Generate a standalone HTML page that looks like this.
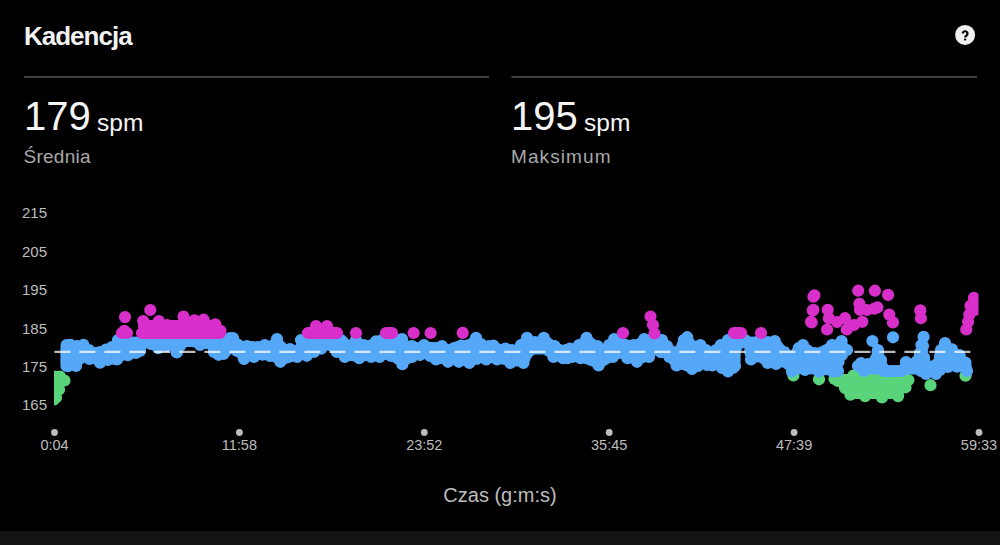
<!DOCTYPE html>
<html><head><meta charset="utf-8">
<style>
html,body{margin:0;padding:0;background:#000;width:1000px;height:545px;overflow:hidden;font-family:"Liberation Sans",sans-serif;}
.t{position:absolute;white-space:nowrap;line-height:1;}
.yl{position:absolute;left:22px;font-size:15px;color:#bdbdbd;line-height:1;}
.xl{position:absolute;top:438px;font-size:14.5px;color:#bdbdbd;line-height:1;width:80px;margin-left:-40px;text-align:center;}
</style></head><body>
<svg width="1000" height="545" style="position:absolute;left:0;top:0">
<rect x="24" y="76" width="465" height="1.8" fill="#444"/>
<rect x="511.4" y="76" width="465.6" height="1.8" fill="#444"/>
<circle cx="965.1" cy="34.9" r="10" fill="#f0f0f0"/><path d="M962.7 33.6A2.4 2.4 0 1 1 967.3 34.6C966.8 35.6 965.1 35.9 965.1 37.6" stroke="#000" stroke-width="2.2" fill="none"/><circle cx="965.1" cy="39.6" r="1.15" fill="#000"/>
<rect x="0" y="531" width="1000" height="14" fill="#131313"/>
<g fill="#bdbdbd"><circle cx="54.5" cy="432.5" r="3.4"/><circle cx="239.4" cy="432.5" r="3.4"/><circle cx="424.3" cy="432.5" r="3.4"/><circle cx="609.2" cy="432.5" r="3.4"/><circle cx="794.1" cy="432.5" r="3.4"/><circle cx="979" cy="432.5" r="3.4"/></g>
<clipPath id="cp"><rect x="54" y="200" width="924.5" height="230"/></clipPath>
<g clip-path="url(#cp)">
<path d="M793.4 375.5h0M819.0 379.3h0M834.5 379.0h0M838.0 381.0h0M853.4 375.6h0M850.4 394.6h0M865.1 396.1h0M882.0 397.4h0M898.1 396.1h0M905.5 387.3h0M908.4 380.0h0M847.3 389.2h0M930.5 385.2h0M965.5 375.7h0M899.4 384.6h0M905.3 378.7h0M898.0 394.9h0M840.0 380.0H905.0M845.0 388.0H900.0M852.0 393.0H895.0" stroke="#5ad47a" stroke-width="12.2" stroke-linecap="round" fill="none"/>
<path d="M66.5 348.5V363.5M68.5 347.4V363.7M70.5 347.3V363.6M72.5 347.7V363.6M74.5 348.1V363.5M76.5 348.4V362.7M78.5 348.2V359.5M80.5 347.8V356.3M82.5 347.5V355.7M84.5 348.3V355.9M86.5 350.2V356.2M88.5 352.0V356.4M90.5 353.3V356.9M92.5 354.3V357.6M94.5 355.3V358.3M96.5 355.4V359.0M98.5 354.9V359.7M100.5 354.3V360.0M102.5 353.5V359.4M104.5 352.7V358.7M106.5 351.9V358.0M108.5 351.0V357.4M110.5 350.1V357.1M112.5 349.4V356.8M114.5 349.0V356.5M116.5 348.6V356.8M118.5 342.5V356.3M120.5 342.5V355.6M122.5 342.5V354.8M124.5 342.5V354.0M126.5 342.5V353.3M128.5 342.5V352.6M130.5 342.5V352.0M132.5 342.5V351.5M134.5 342.5V350.9M136.5 342.5V350.2M138.5 342.5V349.2M140.5 342.5V346.2M142.5 341.7V341.7M144.5 341.0V341.0M146.5 340.6V340.6M148.5 341.2V341.2M150.5 341.9V341.9M152.5 342.1V342.1M154.5 342.2V342.2M156.5 342.3V342.3M158.5 342.5V342.5M160.5 342.5V342.7M162.5 342.5V342.9M164.5 342.5V343.2M166.5 342.5V343.4M168.5 342.5V343.5M170.5 342.5V343.5M172.5 342.5V343.5M174.5 342.5V343.5M176.5 342.5V343.5M178.5 342.5V343.5M180.5 342.5V343.2M182.5 342.3V342.3M184.5 341.8V341.8M186.5 341.2V341.2M188.5 340.6V340.6M190.5 340.8V340.8M192.5 341.1V341.1M194.5 341.5V341.5M196.5 341.9V341.9M198.5 342.2V342.2M200.5 342.5V342.5M202.5 342.5V342.7M204.5 342.5V342.9M206.5 342.5V343.0M208.5 342.5V343.2M210.5 342.5V343.3M212.5 342.5V343.5M214.5 342.5V349.5M216.5 342.5V349.5M218.5 342.5V349.5M220.5 342.5V349.5M222.5 342.5V349.5M224.5 342.5V349.5M226.5 341.9V348.0M228.5 341.1V347.6M230.5 340.5V347.9M232.5 340.5V348.1M234.5 342.8V348.2M236.5 345.8V348.4M238.5 347.5V350.2M240.5 348.5V352.5M242.5 348.5V354.8M244.5 348.5V356.4M246.5 348.5V356.0M248.5 348.8V355.6M250.5 349.2V355.2M252.5 349.5V354.8M254.5 349.5V354.4M256.5 349.5V353.8M258.5 349.4V353.2M260.5 348.8V352.6M262.5 348.2V352.0M264.5 347.6V350.6M266.5 348.2V350.0M268.5 348.9V352.0M270.5 348.9V353.8M272.5 346.6V354.9M274.5 344.4V356.0M276.5 342.1V357.1M278.5 344.5V358.2M280.5 348.5V359.3M282.5 352.5V358.7M284.5 353.1V358.1M286.5 352.5V357.6M288.5 351.9V357.0M290.5 351.6V356.4M292.5 352.0V355.8M294.5 352.4V355.3M296.5 352.8V354.7M298.5 353.2V354.3M300.5 348.0V354.1M302.5 342.5V353.8M304.5 342.5V353.6M306.5 342.5V353.3M308.5 342.5V352.4M310.5 342.5V351.3M312.5 342.5V350.3M314.5 342.5V349.3M316.5 342.5V348.3M318.5 342.5V347.4M320.5 342.5V346.4M322.5 342.5V345.5M324.5 342.5V344.7M326.5 342.5V343.8M328.5 342.5V343.0M330.5 342.5V343.4M332.5 342.5V345.3M334.5 342.5V347.3M336.5 342.5V349.2M338.5 342.5V350.6M340.5 342.5V351.8M342.5 344.0V353.1M344.5 345.5V354.3M346.5 347.1V354.6M348.5 347.5V354.8M350.5 347.5V355.0M352.5 347.5V355.1M354.5 345.0V355.3M356.5 343.3V355.5M358.5 346.7V355.6M360.5 347.5V355.6M362.5 347.5V355.4M364.5 347.4V355.2M366.5 346.8V355.0M368.5 346.1V354.8M370.5 345.6V354.6M372.5 344.9V354.5M374.5 344.3V354.5M376.5 343.8V354.5M378.5 343.3V354.5M380.5 342.9V354.0M382.5 342.5V352.9M384.5 342.5V351.8M386.5 342.5V349.5M388.5 342.5V348.5M390.5 342.5V352.5M392.5 342.5V354.6M394.5 342.5V356.0M396.5 342.5V357.5M398.5 342.4V358.9M400.5 341.9V360.3M402.5 342.4V361.6M404.5 345.9V360.1M406.5 348.5V358.6M408.5 348.5V357.1M410.5 348.5V355.6M412.5 348.5V354.4M414.5 348.3V353.9M416.5 348.1V353.4M418.5 348.0V352.9M420.5 347.8V352.3M422.5 347.6V351.7M424.5 347.5V351.1M426.5 347.6V350.6M428.5 347.8V352.2M430.5 347.9V353.8M432.5 348.0V354.9M434.5 348.1V356.0M436.5 348.2V357.0M438.5 348.3V357.4M440.5 348.4V357.8M442.5 348.8V358.2M444.5 349.9V358.6M446.5 351.1V359.0M448.5 352.2V359.3M450.5 354.2V359.3M452.5 353.6V359.3M454.5 350.4V359.3M456.5 349.8V359.3M458.5 349.1V359.3M460.5 348.3V359.5M462.5 348.1V359.7M464.5 348.1V359.9M466.5 348.1V360.2M468.5 346.8V360.4M470.5 345.1V359.9M472.5 343.3V358.8M474.5 341.6V357.7M476.5 340.9V356.6M478.5 343.4V356.6M480.5 345.9V356.7M482.5 348.8V356.7M484.5 351.8V356.8M486.5 351.0V356.9M488.5 349.0V356.9M490.5 348.4V356.9M492.5 348.2V356.9M494.5 348.4V356.9M496.5 348.9V356.9M498.5 349.4V357.3M500.5 349.9V357.9M502.5 350.4V358.4M504.5 350.9V358.9M506.5 351.3V359.5M508.5 351.8V360.0M510.5 352.2V360.5M512.5 352.7V360.5M514.5 353.7V360.5M516.5 354.1V360.5M518.5 351.1V360.5M520.5 348.2V360.5M522.5 345.7V360.5M524.5 343.3V358.3M526.5 340.9V354.3M528.5 341.1V350.3M530.5 342.1V348.5M532.5 343.2V348.5M534.5 344.2V348.5M536.5 343.8V348.5M538.5 342.8V348.5M540.5 341.9V348.5M542.5 340.9V348.5M544.5 340.8V348.5M546.5 342.4V348.5M548.5 343.9V348.5M550.5 345.4V350.5M552.5 346.9V353.3M554.5 348.4V354.6M556.5 349.1V354.9M558.5 349.7V355.1M560.5 350.4V355.4M562.5 351.0V355.6M564.5 351.6V355.7M566.5 352.3V355.7M568.5 351.6V355.4M570.5 351.2V355.0M572.5 351.7V354.5M574.5 352.2V354.8M576.5 350.5V355.1M578.5 348.1V355.4M580.5 346.1V355.7M582.5 344.2V356.5M584.5 342.3V357.3M586.5 340.4V358.1M588.5 341.7V358.9M590.5 343.3V359.7M592.5 344.8V360.5M594.5 346.3V361.3M596.5 347.8V362.1M598.5 349.4V362.9M600.5 351.1V361.8M602.5 352.8V360.6M604.5 354.4V359.5M606.5 351.5V358.3M608.5 348.3V357.1M610.5 345.8V356.0M612.5 343.5V354.8M614.5 341.6V353.5M616.5 342.2V352.2M618.5 342.8V350.8M620.5 343.5V351.4M622.5 344.1V352.7M624.5 344.7V353.9M626.5 345.3V355.1M628.5 346.0V356.1M630.5 346.6V356.9M632.5 347.2V357.6M634.5 346.9V358.4M636.5 345.8V359.1M638.5 344.7V358.7M640.5 343.6V357.9M642.5 342.4V357.1M644.5 341.6V356.3M646.5 341.9V355.5M648.5 342.2V354.7M650.5 342.5V350.7M652.5 342.5V348.6M654.5 342.5V348.9M656.5 342.5V349.1M658.5 342.5V349.4M660.5 342.5V349.6M662.5 343.1V350.6M664.5 345.5V351.7M666.5 347.9V352.8M668.5 349.5V354.0M670.5 350.8V355.8M672.5 352.1V358.1M674.5 353.4V360.4M676.5 354.7V362.8M678.5 354.0V362.6M680.5 349.6V362.2M682.5 345.3V361.9M684.5 341.9V362.0M686.5 340.3V362.7M688.5 341.7V364.0M690.5 344.7V365.4M692.5 347.7V366.2M694.5 348.3V365.2M696.5 348.0V364.2M698.5 347.8V363.1M700.5 347.6V361.4M702.5 349.4V359.7M704.5 351.2V360.7M706.5 352.8V362.1M708.5 353.8V362.6M710.5 354.8V362.8M712.5 355.1V362.8M714.5 353.6V360.9M716.5 352.0V359.3M718.5 349.9V358.7M720.5 347.8V362.6M722.5 347.5V365.8M724.5 347.5V366.9M726.5 345.0V368.0M728.5 342.5V368.6M730.5 342.5V367.2M732.5 342.5V365.8M734.5 342.5V364.0M736.5 342.5V347.0M738.5 342.0V342.0M740.5 342.0V342.0M742.5 342.0V342.0M744.5 342.0V342.0M746.5 342.0V342.0M748.5 342.0V342.0M750.5 342.5V353.0M752.5 342.5V356.0M754.5 342.5V354.8M756.5 342.5V353.1M758.5 342.5V351.2M760.5 342.6V352.2M762.5 343.1V354.8M764.5 343.6V357.1M766.5 344.1V359.3M768.5 344.4V360.6M770.5 344.1V360.8M772.5 343.8V361.1M774.5 343.5V361.3M776.5 345.4V361.5M778.5 347.7V361.5M780.5 350.0V361.5M782.5 352.3V361.5M784.5 354.6V361.5M786.5 356.2V361.5M788.5 357.9V362.4M790.5 359.4V366.1M792.5 357.2V368.8M794.5 355.1V368.6M796.5 353.0V368.4M798.5 350.8V368.2M800.5 349.3V368.0M802.5 347.9V367.8M804.5 348.5V367.6M806.5 349.8V367.7M808.5 351.2V367.9M810.5 352.5V368.1M812.5 353.8V368.4M814.5 355.2V368.6M816.5 354.8V368.8M818.5 353.9V369.0M820.5 352.9V369.1M822.5 352.0V369.1M824.5 351.0V369.1M826.5 350.1V369.1M828.5 349.1V369.1M830.5 348.2V369.1M832.5 347.3V369.1M834.5 346.7V368.9M836.5 346.0V368.7M838.5 345.3V359.5M840.5 344.7V355.5M842.5 346.5V352.0M844.5 349.2V350.0M846.5 349.9V349.9M66.5 346.0h0M66.7 345.0h0M70.3 344.8h0M77.0 346.0h0M83.4 344.8h0M89.0 350.0h0M95.3 353.2h0M100.0 352.0h0M106.0 349.6h0M112.0 347.0h0M116.8 346.0h0M118.0 340.0h0M225.0 340.0h0M230.0 338.0h0M233.0 338.0h0M237.0 344.0h0M240.0 346.0h0M247.0 346.0h0M252.0 347.0h0M258.0 347.0h0M264.8 345.0h0M270.0 347.0h0M277.0 339.0h0M281.0 347.0h0M283.0 351.0h0M290.0 349.0h0M300.0 351.0h0M301.0 340.0h0M341.0 340.0h0M342.4 341.4h0M347.0 345.0h0M353.0 345.0h0M356.0 340.0h0M359.0 345.0h0M364.0 345.0h0M376.0 341.4h0M382.0 340.0h0M398.0 340.0h0M402.0 339.0h0M406.0 346.0h0M412.0 346.0h0M424.0 345.0h0M442.0 346.0h0M449.0 350.0h0M451.6 353.0h0M454.0 348.0h0M457.6 347.0h0M461.0 345.6h0M467.0 345.6h0M476.0 337.8h0M481.0 344.0h0M485.0 350.0h0M489.0 346.0h0M493.4 345.6h0M505.4 348.6h0M512.0 350.0h0M516.2 352.0h0M521.0 345.0h0M527.0 337.8h0M535.0 342.0h0M543.8 337.8h0M554.6 346.0h0M566.6 349.8h0M570.0 348.6h0M575.0 349.8h0M579.0 345.0h0M586.6 337.8h0M597.4 346.0h0M604.6 352.0h0M609.0 345.0h0M614.2 339.0h0M633.4 345.0h0M644.2 339.0h0M650.0 340.0h0M662.0 340.0h0M667.0 346.0h0M677.8 353.0h0M683.8 340.0h0M687.2 337.2h0M693.0 346.0h0M700.4 345.0h0M706.0 350.0h0M712.0 353.0h0M716.0 350.0h0M720.8 345.0h0M725.0 345.0h0M728.0 340.0h0M745.0 340.0h0M760.0 340.0h0M768.0 342.0h0M774.8 341.0h0M784.4 352.0h0M790.4 357.0h0M798.8 348.0h0M803.0 345.0h0M815.0 353.0h0M832.0 345.0h0M841.0 342.0h0M847.0 350.0h0M66.5 366.0h0M67.9 366.2h0M76.0 366.0h0M81.0 358.0h0M89.4 359.0h0M100.0 362.7h0M108.0 360.0h0M114.4 359.0h0M117.0 359.4h0M128.0 355.2h0M136.0 353.0h0M140.0 351.0h0M141.5 344.0h0M146.0 341.0h0M151.0 344.0h0M167.0 346.0h0M180.0 346.0h0M189.0 341.0h0M200.0 345.0h0M212.5 346.0h0M214.0 352.0h0M225.0 352.0h0M227.0 350.0h0M237.0 351.0h0M244.0 359.0h0M254.0 357.0h0M262.4 354.6h0M266.0 352.0h0M270.0 356.0h0M280.4 361.8h0M297.2 357.0h0M306.8 355.8h0M314.0 352.0h0M321.2 348.6h0M329.6 345.0h0M336.8 352.0h0M344.8 357.0h0M359.2 358.2h0M371.2 357.0h0M379.6 357.0h0M385.0 354.0h0M388.0 350.0h0M391.0 356.0h0M402.4 364.2h0M412.0 357.0h0M420.0 355.0h0M426.4 353.0h0M430.0 356.0h0M436.0 359.4h0M448.0 361.8h0M458.8 361.8h0M469.4 363.0h0M476.6 359.0h0M486.2 359.4h0M497.0 359.4h0M510.2 363.0h0M523.4 363.0h0M529.4 351.0h0M549.0 351.0h0M553.4 357.0h0M563.0 358.2h0M567.4 358.2h0M572.6 357.0h0M580.6 358.2h0M598.6 365.4h0M613.0 357.0h0M619.0 353.0h0M627.4 358.2h0M637.0 361.8h0M649.0 357.0h0M651.4 351.0h0M661.0 352.2h0M669.4 357.0h0M676.6 365.4h0M683.8 364.2h0M687.0 365.4h0M692.0 369.0h0M698.0 366.0h0M702.8 362.0h0M707.0 365.0h0M712.4 365.4h0M716.0 362.0h0M718.4 361.0h0M722.0 368.0h0M728.0 371.4h0M733.0 368.0h0M735.0 366.0h0M737.0 344.0h0M749.0 344.0h0M751.0 359.4h0M755.0 357.0h0M759.2 353.0h0M763.0 358.0h0M767.6 363.0h0M776.0 364.0h0M788.0 364.0h0M792.0 371.4h0M805.0 370.0h0M819.0 371.6h0M833.0 371.6h0M838.0 371.0h0M838.5 362.0h0M842.0 355.0h0M847.0 350.0h0M858.0 366.0V366.0M860.0 365.8V365.8M862.0 365.6V366.8M864.0 365.9V368.5M866.0 366.2V368.5M868.0 366.5V368.5M870.0 365.8V368.5M872.0 365.2V368.5M874.0 364.5V368.5M876.0 358.5V368.5M878.0 352.5V368.5M880.0 359.2V368.5M882.0 366.2V368.5M884.0 371.0V371.0M886.0 371.0V371.0M888.0 371.0V371.0M890.0 371.0V371.0M892.0 371.0V371.0M894.0 371.0V371.0M896.0 371.0V371.0M898.0 371.0V371.0M900.0 371.0V371.0M902.0 371.0V371.0M904.0 368.8V368.8M906.0 364.5V368.5M908.0 364.3V368.5M910.0 364.1V368.5M912.0 364.0V368.5M914.0 363.8V368.5M916.0 363.6V368.5M918.0 360.8V368.5M920.0 355.5V368.5M922.0 350.8V369.1M924.0 357.5V370.3M926.0 366.5V371.5M928.0 366.5V371.5M930.0 366.5V371.5M932.0 366.5V371.5M934.0 366.5V371.5M936.0 366.5V371.5M938.0 363.0V369.5M940.0 356.0V367.5M942.0 350.8V366.8M944.0 347.2V366.0M946.0 346.4V365.2M948.0 348.2V364.5M950.0 350.1V364.4M952.0 351.9V364.3M954.0 353.4V364.2M956.0 355.0V364.1M958.0 356.5V364.5M960.0 358.2V365.4M962.0 360.7V366.3M964.0 363.2V367.2M966.0 367.9V368.1M858.0 366.0h0M861.0 363.0h0M868.0 364.0h0M874.0 362.0h0M878.0 350.0h0M881.0 360.0h0M884.0 371.0h0M902.0 371.0h0M906.0 362.0h0M917.0 361.0h0M920.0 353.0h0M923.0 346.0h0M925.0 364.0h0M937.0 364.0h0M941.0 350.0h0M945.0 343.0h0M952.0 349.4h0M959.6 355.2h0M965.5 362.6h0M967.0 371.0h0M858.0 366.0h0M864.0 371.0h0M921.0 371.0h0M926.0 374.0h0M936.0 374.0h0M940.0 370.0h0M948.0 367.0h0M957.0 366.6h0M967.0 371.0h0M158.2 348.2h0M176.8 352.4h0M218.6 354.8h0M223.6 354.0h0M774.0 342.0h0M803.0 345.0h0M831.9 345.0h0M840.9 342.0h0M841.6 341.0h0M872.4 341.0h0M877.6 352.0h0M893.0 337.3h0M923.6 336.9h0M921.4 345.0h0M920.0 353.8h0M945.0 344.2h0" stroke="#55a8f8" stroke-width="12.2" stroke-linecap="round" fill="none"/>
<path d="M54.0 399.5h0M56.0 397.5h0M59.0 389.5h0M64.5 380.5h0M60.0 376.5h0M54.0 376.5h0M54.0 387.5H58.0" stroke="#5ad47a" stroke-width="12.2" stroke-linecap="round" fill="none"/>
<path d="M125.0 317.1h0M124.3 330.8h0M122.0 333.0h0M127.0 333.0h0M150.3 310.0h0M143.2 321.0h0M158.8 321.0h0M167.2 325.0h0M183.5 316.5h0M194.5 320.4h0M203.6 319.7h0M215.3 324.3h0M220.5 330.8h0M316.0 326.0h0M327.0 326.0h0M356.0 333.0h0M413.6 333.0h0M430.6 333.0h0M462.7 332.9h0M623.0 333.0h0M650.5 316.5h0M653.0 325.0h0M654.5 333.5h0M761.0 333.0h0M814.4 295.3h0M812.8 310.4h0M811.6 322.4h0M827.7 309.8h0M828.9 318.2h0M827.1 329.5h0M845.0 318.2h0M846.8 329.5h0M858.2 290.7h0M859.4 303.9h0M860.0 309.8h0M862.3 321.8h0M874.9 290.7h0M874.3 308.6h0M888.1 294.9h0M877.4 307.4h0M889.3 314.6h0M892.9 322.4h0M920.3 310.4h0M920.9 318.2h0M974.0 297.9h0M970.5 305.7h0M969.3 314.6h0M968.1 321.8h0M966.3 329.5h0M975.2 309.8h0M977.0 300.0h0M837.0 322.0h0M854.0 325.0h0M867.0 310.0h0M813.4 296.7h0M813.4 309.8h0M811.0 321.8h0M142.0 333.0H220.0M144.0 326.0H215.0M308.0 333.0H337.0M386.0 333.0H392.0M734.0 333.0H741.0" stroke="#d92fca" stroke-width="12.2" stroke-linecap="round" fill="none"/>
</g>
<line x1="54.4" y1="351.9" x2="971" y2="351.9" stroke="rgba(255,255,255,0.74)" stroke-width="2.4" stroke-dasharray="16 9"/>
</svg>
<div class="t" style="left:24px;top:22.5px;font-size:26px;letter-spacing:-1px;font-weight:bold;color:#f2f2f2;">Kadencja</div>
<div class="t" style="left:24px;top:95.5px;font-size:40px;color:#f5f5f5;">179</div>
<div class="t" style="left:97px;top:111px;font-size:24.5px;color:#f5f5f5;">spm</div>
<div class="t" style="left:23.5px;top:147px;font-size:19px;letter-spacing:0.25px;color:#a8a8a8;">Średnia</div>
<div class="t" style="left:511px;top:95.5px;font-size:40px;color:#f5f5f5;">195</div>
<div class="t" style="left:584px;top:111px;font-size:24.5px;color:#f5f5f5;">spm</div>
<div class="t" style="left:511px;top:147px;font-size:19px;letter-spacing:1.1px;color:#a8a8a8;">Maksimum</div>
<div class="yl" style="top:205px">215</div>
<div class="yl" style="top:244.2px">205</div>
<div class="yl" style="top:282.3px">195</div>
<div class="yl" style="top:320.5px">185</div>
<div class="yl" style="top:359px">175</div>
<div class="yl" style="top:397.3px">165</div>
<div class="xl" style="left:54.5px">0:04</div>
<div class="xl" style="left:239.4px">11:58</div>
<div class="xl" style="left:424.3px">23:52</div>
<div class="xl" style="left:609.2px">35:45</div>
<div class="xl" style="left:794.1px">47:39</div>
<div class="xl" style="left:979px">59:33</div>
<div class="t" style="left:0;width:1000px;text-align:center;top:485px;font-size:20px;color:#bdbdbd;">Czas (g:m:s)</div>
</body></html>
